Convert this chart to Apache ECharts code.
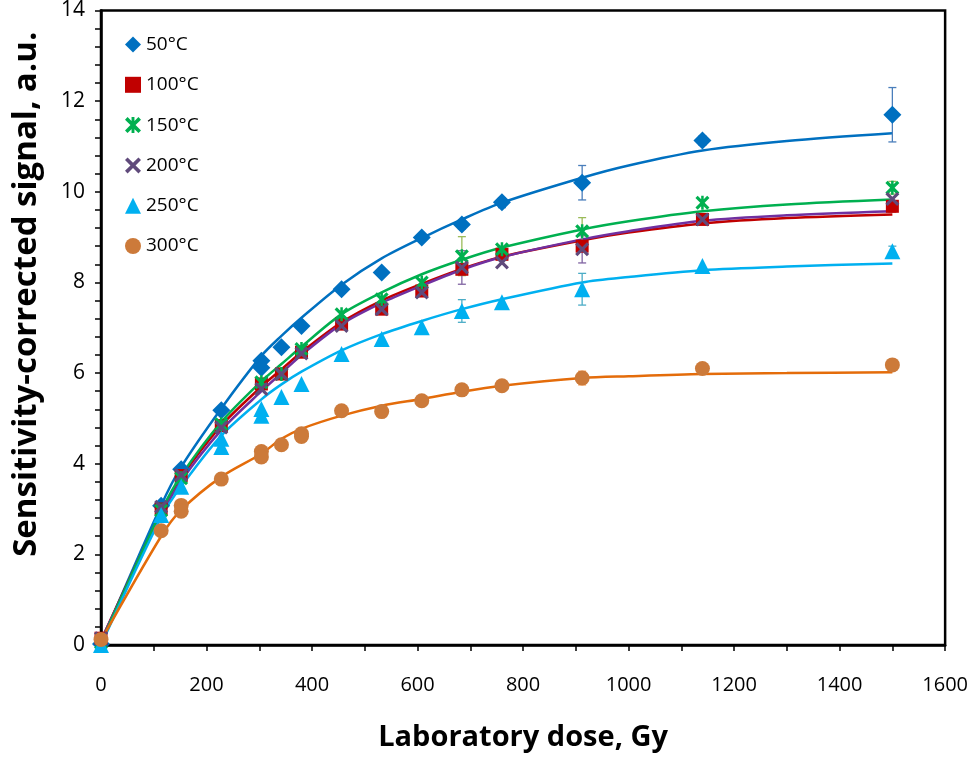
<!DOCTYPE html>
<html>
<head>
<meta charset="utf-8">
<script src="https://cdn.jsdelivr.net/npm/echarts@6/dist/echarts.min.js"></script>
<style>
  html, body { margin: 0; padding: 0; background: #fff; }
  #chart { width: 971px; height: 757px; }
</style>
</head>
<body>
<div id="chart"></div>
<script>
// measured points [dose Gy, signal a.u.]
var s50 = [[0,0.02],[114,3.07],[152,3.88],[228,5.18],[304,6.27],[304,6.12],[342,6.57],[380,7.04],[456,7.85],[532,8.22],[608,8.99],[684,9.28],[760,9.77],[912,10.2],[1140,11.13],[1500,11.7]];
var s100 = [[0,0.15],[114,3.0],[152,3.74],[228,4.84],[304,5.76],[342,5.98],[380,6.46],[456,7.08],[532,7.41],[608,7.81],[684,8.29],[760,8.62],[912,8.8],[1140,9.39],[1500,9.68]];
var s150 = [[0,0.05],[114,2.97],[152,3.68],[228,4.87],[304,5.8],[342,5.98],[380,6.53],[456,7.3],[532,7.63],[608,8.0],[684,8.58],[760,8.73],[912,9.13],[1140,9.76],[1500,10.09]];
var s200 = [[0,0.15],[114,3.05],[152,3.75],[228,4.8],[304,5.65],[342,5.98],[380,6.43],[456,7.04],[532,7.41],[608,7.78],[684,8.33],[760,8.44],[912,8.73],[1140,9.39],[1500,9.84]];
var s250 = [[0,0.0],[114,2.87],[152,3.49],[228,4.55],[228,4.37],[304,5.21],[304,5.06],[342,5.47],[380,5.76],[456,6.42],[532,6.75],[608,7.01],[684,7.37],[760,7.56],[912,7.85],[1140,8.36],[1500,8.69]];
var s300 = [[0,0.12],[114,2.52],[152,3.08],[152,2.95],[228,3.66],[304,4.27],[304,4.15],[342,4.42],[380,4.66],[380,4.6],[456,5.17],[532,5.15],[608,5.39],[684,5.63],[760,5.72],[912,5.89],[1140,6.1],[1500,6.18]];

var fitDose = [0,114,152,228,304,342,380,456,532,608,684,760,912,1000,1140,1300,1500];
var fit50  = [0.05,3.08,3.93,5.22,6.38,6.82,7.22,7.95,8.53,8.98,9.39,9.76,10.31,10.58,10.91,11.12,11.29];
var fit100 = [0.1,2.92,3.7,4.84,5.7,6.08,6.46,7.12,7.6,7.97,8.3,8.57,8.93,9.1,9.3,9.42,9.5];
var fit150 = [0.05,2.95,3.74,4.92,5.82,6.2,6.58,7.3,7.78,8.18,8.5,8.77,9.17,9.35,9.57,9.72,9.83];
var fit200 = [0.1,2.86,3.62,4.74,5.6,6.0,6.4,7.08,7.55,7.93,8.28,8.56,8.95,9.13,9.36,9.48,9.57];
var fit250 = [0.0,2.82,3.5,4.62,5.42,5.75,6.03,6.5,6.86,7.15,7.41,7.63,8.0,8.12,8.27,8.35,8.42];
var fit300 = [0.1,2.4,2.98,3.71,4.22,4.55,4.77,5.06,5.28,5.43,5.59,5.72,5.89,5.93,5.98,6.0,6.02];

// error bars [dose, low, high]
var err50 = [[684,9.18,9.38],[760,9.65,9.87],[912,9.82,10.58],[1140,11.03,11.23],[1500,11.1,12.3]];
var err100 = [[1500,9.55,9.8]];
var err150 = [[684,8.15,9.01],[912,8.83,9.43],[1500,9.95,10.23]];
var err200 = [[684,7.96,8.7],[912,8.43,9.03]];
var err250 = [[684,7.12,7.62],[912,7.5,8.2],[1500,8.6,8.8]];
var err300 = [[304,4.08,4.34],[456,5.05,5.27],[912,5.74,6.04]];

var names = ['50°C','100°C','150°C','200°C','250°C','300°C'];

var xPath = 'path://M0,1.6L1.6,0L5,3.4L8.4,0L10,1.6L6.6,5L10,8.4L8.4,10L5,6.6L1.6,10L0,8.4L3.4,5Z';
var starPath = 'path://M0,1.6L1.6,0L5,3.4L8.4,0L10,1.6L6.6,5L10,8.4L8.4,10L5,6.6L1.6,10L0,8.4L3.4,5Z' +
               'M4.1,0L5.9,0L5.9,10L4.1,10Z';

function zip(xs, ys) {
  return xs.map(function (x, i) { return [x, ys[i]]; });
}

function fitLine(data, color) {
  return {
    type: 'line', data: zip(fitDose, data), smooth: 0.3, showSymbol: false,
    lineStyle: { color: color, width: 2.5 }, z: 2, silent: true
  };
}

function errBars(data, color) {
  return {
    type: 'custom', data: data, z: 3, silent: true,
    renderItem: function (params, api) {
      var top = api.coord([api.value(0), api.value(2)]);
      var bot = api.coord([api.value(0), api.value(1)]);
      var c = 4;
      var st = { stroke: color, lineWidth: 1.3 };
      return {
        type: 'group',
        children: [
          { type: 'line', shape: { x1: top[0], y1: top[1], x2: bot[0], y2: bot[1] }, style: st },
          { type: 'line', shape: { x1: top[0] - c, y1: top[1], x2: top[0] + c, y2: top[1] }, style: st },
          { type: 'line', shape: { x1: bot[0] - c, y1: bot[1], x2: bot[0] + c, y2: bot[1] }, style: st }
        ]
      };
    }
  };
}

function points(name, data, symbol, size, color) {
  return {
    name: name, type: 'scatter', data: data, symbol: symbol, symbolSize: size,
    itemStyle: { color: color, opacity: 1 }, z: 4
  };
}

var chart = echarts.init(document.getElementById('chart'));
var font = 'Open Sans';
var option = {
  backgroundColor: '#fff',
  animation: false,
  grid: { left: 101, right: 25, top: 10, bottom: 110, show: true, borderColor: '#000', borderWidth: 2.5 },
  legend: {
    data: names, orient: 'vertical', left: 120, top: 30,
    itemWidth: 16, itemHeight: 16, itemGap: 21.3,
    textStyle: { fontFamily: font, fontSize: 19, color: '#000' }
  },
  xAxis: {
    type: 'value', min: 0, max: 1600, interval: 200,
    name: 'Laboratory dose, Gy', nameLocation: 'middle', nameGap: 78,
    nameTextStyle: { fontFamily: font, fontSize: 29, fontWeight: 'bold', color: '#000' },
    axisLine: { lineStyle: { color: '#000', width: 2.5 } },
    axisTick: { length: 6, lineStyle: { color: '#000', width: 1.5 } },
    minorTick: { show: true, splitNumber: 2, length: 6, lineStyle: { color: '#000', width: 1.5 } },
    axisLabel: { fontFamily: font, fontSize: 20, color: '#000', margin: 30, formatter: function (v) { return String(v); } },
    splitLine: { show: false }
  },
  yAxis: {
    type: 'value', min: 0, max: 14, interval: 2,
    name: 'Sensitivity-corrected signal, a.u.', nameLocation: 'middle', nameGap: 58,
    nameTextStyle: { fontFamily: font, fontSize: 33, fontWeight: 'bold', color: '#000', padding: [0, 0, 0, 67] },
    axisLine: { lineStyle: { color: '#000', width: 2.5 } },
    axisTick: { length: 6, lineStyle: { color: '#000', width: 1.5 } },
    minorTick: { show: true, splitNumber: 5, length: 6, lineStyle: { color: '#000', width: 1.5 } },
    axisLabel: { fontFamily: font, fontSize: 21, color: '#000', margin: 16 },
    splitLine: { show: false }
  },
  series: [
    fitLine(fit50, '#0070C0'),
    fitLine(fit100, '#C00000'),
    fitLine(fit200, '#7030A0'),
    fitLine(fit150, '#00B050'),
    fitLine(fit250, '#00B0F0'),
    fitLine(fit300, '#E46C0A'),
    errBars(err50, '#4A7EBB'),
    errBars(err100, '#C0504D'),
    errBars(err150, '#9BBB59'),
    errBars(err200, '#8064A2'),
    errBars(err250, '#4BACC6'),
    errBars(err300, '#F79646'),
    points('50°C', s50, 'diamond', 18, '#0070C0'),
    points('100°C', s100, 'rect', 13, '#C00000'),
    points('150°C', s150, starPath, 14, '#00B050'),
    points('200°C', s200, xPath, 14, '#604A7B'),
    points('250°C', s250, 'triangle', 16, '#00B0F0'),
    points('300°C', s300, 'circle', 15, '#CC7A3A')
  ]
};
chart.setOption(option);
</script>
</body>
</html>
